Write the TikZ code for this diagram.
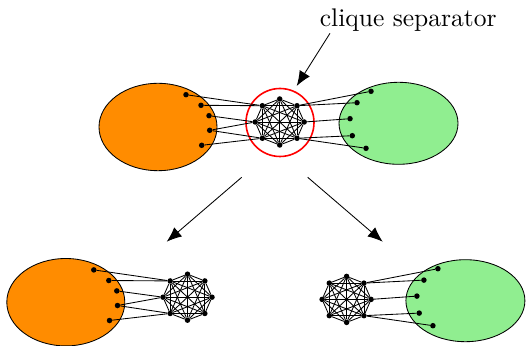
\documentclass[tikz,border=0pt]{standalone}
\usetikzlibrary{arrows.meta,calc}

\definecolor{blobA}{HTML}{FF8C00}
\definecolor{blobB}{HTML}{90EE90}

\tikzset{
  vtx/.style={circle,fill=black,inner sep=0pt,minimum size=5.5pt},
  edge/.style={line width=0.85pt},
  blob/.style={draw=black,line width=0.85pt},
  ring/.style={circle,draw=red,line width=1.6pt,minimum size=68pt,inner sep=0pt},
  pointer/.style={line width=0.85pt,-{Latex[length=15pt,width=12pt]}},
}

% complete graph K8 on an octagon; vertex k sits at angle 45k
\newcommand\drawclique[3]{%
  \begin{scope}[shift={(#2,#3)}]
    \foreach \k in {0,...,7}
      \node[vtx] (#1\k) at ({45*\k}:24.5pt and 23pt) {};
  \end{scope}
  \foreach \i in {0,...,6}{
    \pgfmathtruncatemacro\nxt{\i+1}
    \foreach \j in {\nxt,...,7}
      \draw[edge] (#1\i) -- (#1\j);
  }%
}

% orange component to the left of a clique centred at (#3,#4)
\newcommand\leftblob[4]{%
  \begin{scope}[shift={(#3,#4)}]
    \filldraw[blob,fill=blobA] (-121.7,-5) ellipse [x radius=59, y radius=43.7];
    \foreach \p [count=\n] in {(-93.7,27.3),(-78.7,16.7),(-70.7,6.3),(-70,-8.3),(-78,-23.3)}
      \node[vtx] (#1\n) at \p {};
  \end{scope}
  \foreach \a/\b in {1/3,2/3,3/4,4/4,4/5,5/5}
    \draw[edge] (#1\a) -- (#2\b);
}

% green component to the right of a clique centred at (#3,#4)
\newcommand\rightblob[4]{%
  \begin{scope}[shift={(#3,#4)}]
    \filldraw[blob,fill=blobB] (118.8,-1.3) ellipse [x radius=59.5, y radius=41];
    \foreach \p [count=\n] in {(91.3,30.7),(77.3,19.3),(70.3,3.3),(72.6,-13.7),(86.3,-26.3)}
      \node[vtx] (#1\n) at \p {};
  \end{scope}
  \foreach \a/\b in {1/1,2/1,3/0,4/7,5/7}
    \draw[edge] (#1\a) -- (#2\b);
}

\begin{document}
\begin{tikzpicture}[x=1pt,y=1pt]
  \useasboundingbox (0,0) rectangle (526,345);

  % whole graph with its separator
  \drawclique{ct}{279.7}{223}
  \node[ring] (sepring) at (280,222.5) {};
  \leftblob{la}{ct}{279.7}{223}
  \rightblob{ra}{ct}{279.7}{223}

  % the two pieces after splitting
  \drawclique{cl}{187.5}{47.8}
  \leftblob{lb}{cl}{187.5}{47.8}
  \drawclique{cr}{346.6}{45.6}
  \rightblob{rb}{cr}{346.6}{45.6}

  % label and arrows
  \node[scale=2.55,anchor=base,inner sep=0pt] (label) at (408.2,318.7) {clique separator};
  \coordinate (sepfrom) at (330,311.7);
  \coordinate (septo) at (296.7,259);
  \draw[pointer] (sepfrom) -- (septo);

  \coordinate (splitL) at (241.7,167.7);
  \coordinate (splitLend) at (166.7,103.3);
  \coordinate (splitR) at (307.7,167.7);
  \coordinate (splitRend) at (382.7,103.3);
  \draw[pointer] (splitL) -- (splitLend);
  \draw[pointer] (splitR) -- (splitRend);
\end{tikzpicture}
\end{document}
